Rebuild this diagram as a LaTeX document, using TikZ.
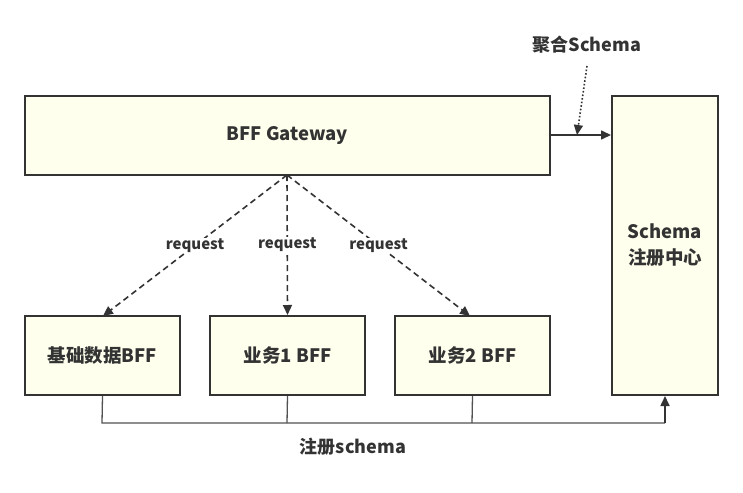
\documentclass[tikz,border=0pt]{standalone}
\usepackage{fontspec}
\setmainfont{Noto Sans CJK SC}
\usetikzlibrary{arrows.meta}
\definecolor{boxfill}{HTML}{FFFFEE}
\definecolor{ink}{HTML}{333333}
\begin{document}
\begin{tikzpicture}[x=1pt,y=-1pt,
  box/.style={draw=ink,line width=2pt,fill=boxfill,inner sep=0pt,font=\fontsize{18.5}{26}\selectfont\bfseries,text=ink},
  lbl/.style={font=\fontsize{15}{18}\selectfont\bfseries,text=ink,inner sep=1pt},
  biglbl/.style={font=\fontsize{18}{22}\selectfont\bfseries,text=ink,inner sep=1pt},
  req/.style={draw=ink,line width=1.6pt,dash pattern=on 6pt off 4pt,-{Triangle[length=10pt,width=9pt]}},
  solid arrow/.style={draw=ink,line width=1.6pt,-{Triangle[length=10pt,width=9pt]}}]
\useasboundingbox (0,0) rectangle (743,492);
\node[box,minimum width=525pt,minimum height=79pt] (gw) at (287.5,135.5) {BFF Gateway};
\node[box,minimum width=106pt,minimum height=299pt,align=center] (reg) at (665,245.5) {Schema\\注册中心};
\node[box,minimum width=155pt,minimum height=79pt] (b1) at (102.5,355.5) {基础数据BFF};
\node[box,minimum width=155pt,minimum height=79pt] (b2) at (287.5,355.5) {业务1 BFF};
\node[box,minimum width=155pt,minimum height=79pt] (b3) at (472.5,355.5) {业务2 BFF};
\coordinate (top) at (287,175);
\draw[req] (top) -- node[lbl,fill=white,pos=0.5] {request} (103,316);
\draw[req] (top) -- node[lbl,fill=white,pos=0.5] {request} (b2.north);
\draw[req] (top) -- node[lbl,fill=white,pos=0.5] {request} (470,316);
\draw[solid arrow] (gw.east |- 0,135) -- (reg.west |- 0,135);
\node[biglbl] (agg) at (587,45) {聚合Schema};
\draw[draw=ink,line width=1.6pt,dotted,-{Triangle[length=10pt,width=9pt]}] (587,66) -- (577,135);
\draw[draw=ink!85,line width=1.3pt] (b1.south) -- (102,423) -- (665,423);
\draw[draw=ink!85,line width=1.3pt] (b2.south) -- (287,423);
\draw[draw=ink!85,line width=1.3pt] (b3.south) -- (472,423);
\draw[solid arrow] (665,423) -- (reg.south -| 665,0);
\node[biglbl] (regtxt) at (353,447) {注册schema};
\end{tikzpicture}
\end{document}
